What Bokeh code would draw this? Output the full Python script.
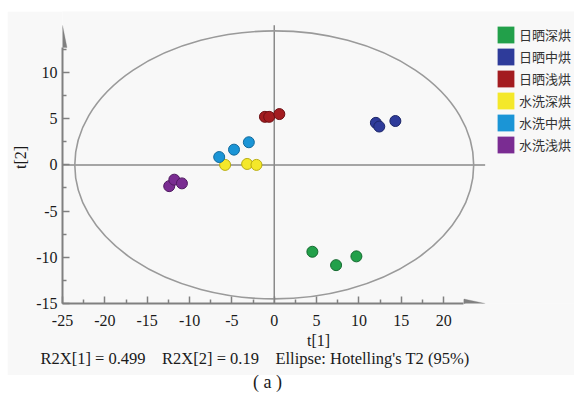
from bokeh.plotting import figure
from bokeh.models import (Legend, LegendItem, FixedTicker, PolyAnnotation, Title, Div)
from bokeh.layouts import column
from bokeh.embed import file_html
from bokeh.resources import INLINE

# ---- data (scores) ----
groups = ["日晒深烘", "日晒中烘", "日晒浅烘", "水洗深烘", "水洗中烘", "水洗浅烘"]
colors = ["#22a04a", "#2e3b9a", "#a31c20", "#f4e82a", "#1b95d6", "#7a2c92"]
edges = ["#156a30", "#1c2668", "#6e1014", "#b8ad10", "#126a9c", "#4f1a60"]

sd_x = [4.5, 7.3, 9.7]
sd_y = [-9.4, -10.85, -9.9]
sm_x = [12.0, 12.4, 14.3]
sm_y = [4.55, 4.15, 4.75]
sl_x = [-1.1, -0.6, 0.6]
sl_y = [5.2, 5.2, 5.5]
wd_x = [-5.8, -3.2, -2.1]
wd_y = [0.0, 0.1, 0.0]
wm_x = [-6.5, -4.75, -3.0]
wm_y = [0.85, 1.65, 2.45]
wl_x = [-12.4, -11.8, -10.9]
wl_y = [-2.3, -1.6, -2.0]

xs = [sd_x, sm_x, sl_x, wd_x, wm_x, wl_x]
ys = [sd_y, sm_y, sl_y, wd_y, wm_y, wl_y]

x_major = [-25, -20, -15, -10, -5, 0, 5, 10, 15, 20]
x_minor = [-22.5, -17.5, -12.5, -7.5, -2.5, 2.5, 7.5, 12.5, 17.5, 22.5]
y_major = [-15, -10, -5, 0, 5, 10]
y_minor = [-12.5, -7.5, -2.5, 2.5, 7.5, 12.5]

ellipse_center = [0.0, 0.0]
ellipse_size = [47.1, 29.0]  # full width, full height (Hotelling's T2 95%)

caption = ("R2X[1] = 0.499\u00a0\u00a0\u00a0\u00a0R2X[2] = 0.19"
           "\u00a0\u00a0\u00a0\u00a0Ellipse: Hotelling's T2 (95%)")

# ---- geometry ----
X0, X1 = -25, 35.45
Y0, Y1 = -15, 16.6
X_AXIS_END = 22.4      # where the arrow head begins
X_TIP = 24.9
Y_AXIS_END = 12.7
Y_TIP = 15.1
FRAME_W, FRAME_H = 512, 292
xpx = FRAME_W / (X1 - X0)
ypx = FRAME_H / (Y1 - Y0)
HALF_HEAD = 4.5  # px

BG = "#f8f8f8"
AX = "#808080"
SERIF = "Liberation Serif"

W = 567
H = 364
p = figure(width=W, height=H, output_backend="svg", toolbar_location=None,
           x_range=(X0, X1), y_range=(Y0, Y1),
           min_border_left=55, min_border_right=0, min_border_top=0,
           min_border_bottom=72, margin=(11, 0, 0, 7))
p.background_fill_color = BG
p.border_fill_color = BG
p.outline_line_color = None
p.grid.visible = False

for ax, maj, mino in ((p.xaxis[0], x_major, x_minor), (p.yaxis[0], y_major, y_minor)):
    ax.ticker = FixedTicker(ticks=maj, minor_ticks=mino)
    ax.major_label_overrides = {t: str(t) for t in maj}
    ax.axis_line_color = AX
    ax.axis_line_width = 2
    ax.major_tick_line_color = AX
    ax.minor_tick_line_color = AX
    ax.major_tick_line_width = 1.5
    ax.minor_tick_line_width = 1.5
    ax.major_tick_in = 7
    ax.major_tick_out = 0
    ax.minor_tick_in = 4
    ax.minor_tick_out = 0
    ax.major_label_text_font = SERIF
    ax.major_label_text_font_size = "16px"
    ax.major_label_text_color = "#1a1a1a"
    ax.axis_label_text_font = SERIF
    ax.axis_label_text_font_size = "16px"
    ax.axis_label_text_font_style = "normal"
    ax.axis_label_text_color = "#1a1a1a"

p.xaxis.bounds = (X0, X_AXIS_END)
p.yaxis.bounds = (Y0, Y_AXIS_END)
p.xaxis.axis_label = "t[1]"
p.yaxis.axis_label = "t[2]"
p.xaxis.major_label_standoff = 11
p.xaxis.axis_label_standoff = 3
p.yaxis.major_label_standoff = 5
p.yaxis.axis_label_standoff = 4

# axis arrow heads
hx = HALF_HEAD / ypx
p.add_layout(PolyAnnotation(xs=[X_AXIS_END, X_TIP, X_AXIS_END], ys=[Y0 - hx, Y0, Y0 + hx],
                            fill_color=AX, fill_alpha=1, line_color=AX, line_width=1))
hy = HALF_HEAD / xpx
p.add_layout(PolyAnnotation(xs=[X0 - hy, X0, X0 + hy], ys=[Y_AXIS_END, Y_TIP, Y_AXIS_END],
                            fill_color=AX, fill_alpha=1, line_color=AX, line_width=1))

# cross lines at 0
p.segment(x0=[X0, 0], y0=[0, Y0], x1=[X_TIP, 0], y1=[0, Y_TIP],
          line_color="#8a8a8a", line_width=1.5)

# ellipse
p.ellipse(x=[ellipse_center[0]], y=[ellipse_center[1]],
          width=ellipse_size[0], height=ellipse_size[1],
          fill_color=None, line_color="#9a9a9a", line_width=1.6)

# scores
for gx, gy, c, e in zip(xs, ys, colors, edges):
    p.scatter(gx, gy, size=11, fill_color=c, line_color=e, line_width=1)

# legend (swatches only)
nan = float("nan")
items = []
for g, c in zip(groups, colors):
    r = p.quad(left=[nan], right=[nan], top=[nan], bottom=[nan], fill_color=c, line_color=None)
    items.append(LegendItem(label=g, renderers=[r]))
legend = Legend(items=items, location=(433, 148), orientation="vertical",
                glyph_width=21, glyph_height=21, label_height=21, spacing=1,
                padding=0, margin=0, label_standoff=3,
                label_text_font="Noto Sans CJK SC", label_text_font_size="13px",
                label_text_color="#333333", border_line_color=None,
                background_fill_alpha=0)
p.add_layout(legend, "center")

p.add_layout(Title(text=caption, text_font=SERIF, text_font_size="16.5px",
                   text_font_style="normal", text_color="#1a1a1a",
                   align="left", offset=-22, standoff=-10), "below")

sub = Div(text="(\u00a0a\u00a0)", width=W, height=23, margin=(0, 0, 0, 7),
          styles={"font-family": SERIF, "font-size": "18px",
                  "line-height": "15px", "padding-left": "246px", "color": "#1a1a1a"})

layout = column(p, sub, spacing=0)
open("out.html", "w").write(file_html(layout, INLINE))
